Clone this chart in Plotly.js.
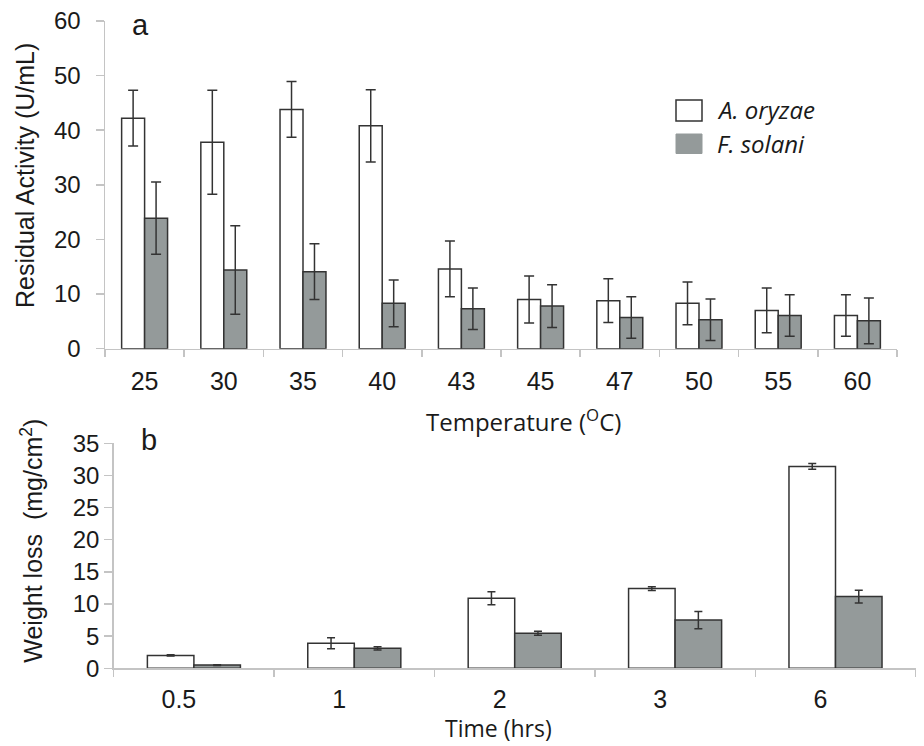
<!DOCTYPE html>
<html>
<head>
<meta charset="utf-8">
<script src="https://cdn.plot.ly/plotly-3.0.1.min.js"></script>
<style>html,body{margin:0;padding:0;background:#fff;}#chart{width:924px;height:746px;}</style>
</head>
<body>
<div id="chart"></div>
<script>
// ---- data ----
const tempCats = ['25', '30', '35', '40', '43', '45', '47', '50', '55', '60'];
const aoryzaeTemp = [42.2, 37.8, 43.8, 40.8, 14.6, 9.0, 8.8, 8.3, 7.0, 6.1];
const aoryzaeTempErr = [5.1, 9.5, 5.1, 6.6, 5.1, 4.3, 4.0, 3.9, 4.1, 3.8];
const fsolaniTemp = [23.9, 14.4, 14.1, 8.3, 7.3, 7.8, 5.7, 5.3, 6.1, 5.1];
const fsolaniTempErr = [6.6, 8.1, 5.1, 4.3, 3.8, 3.9, 3.8, 3.8, 3.8, 4.2];

const timeCats = ['0.5', '1', '2', '3', '6'];
const aoryzaeTime = [2.0, 3.9, 10.9, 12.4, 31.4];
const aoryzaeTimeErr = [0.1, 0.85, 1.0, 0.3, 0.45];
const fsolaniTime = [0.5, 3.1, 5.45, 7.5, 11.15];
const fsolaniTimeErr = [0.05, 0.25, 0.3, 1.35, 1.0];

const seriesNames = ['A. oryzae', 'F. solani'];
const panelLabels = ['a', 'b'];
const xTitles = ['Temperature (<sup>O</sup>C)', 'Time (hrs)'];
const yTitles = ['Residual Activity (U/mL)', 'Weight loss  (mg/cm<sup>2</sup>)'];

// ---- styles ----
const W = 924, H = 746;
const WHITE = '#ffffff', GREY = '#949a9a', EDGE = '#333333', AX = '#c4c4c4';
const ARIAL = 'Liberation Sans, Arial, sans-serif';
const MYRIAD = 'Open Sans, Noto Sans, sans-serif';
const TXT = '#1a1a1a';
const px = v => v / W;
const py = v => 1 - v / H;

function bar(x, y, err, color, xa, ya, name, cap) {
  return {
    type: 'bar', x: x, y: y, name: name, xaxis: xa, yaxis: ya, showlegend: false,
    marker: {color: color, line: {color: EDGE, width: 1.5}},
    error_y: {type: 'data', array: err, visible: true, color: EDGE, thickness: 1.5, width: cap},
    hoverinfo: 'x+y'
  };
}

const data = [
  bar(tempCats, aoryzaeTemp, aoryzaeTempErr, WHITE, 'x', 'y', seriesNames[0], 5),
  bar(tempCats, fsolaniTemp, fsolaniTempErr, GREY, 'x', 'y', seriesNames[1], 5),
  bar(timeCats, aoryzaeTime, aoryzaeTimeErr, WHITE, 'x2', 'y2', seriesNames[0], 4),
  bar(timeCats, fsolaniTime, fsolaniTimeErr, GREY, 'x2', 'y2', seriesNames[1], 4)
];

const xBase = {
  type: 'category', showline: true, linecolor: AX, linewidth: 1.5,
  ticks: 'outside', tickson: 'boundaries', ticklen: 7, tickcolor: AX, tickwidth: 1.5,
  showgrid: false, zeroline: false, fixedrange: true
};
const yBase = {
  showline: true, linecolor: AX, linewidth: 1.5,
  ticks: 'outside', ticklen: 8, tickcolor: AX, tickwidth: 1.5,
  showgrid: false, zeroline: false, fixedrange: true
};

const layout = {
  width: W, height: H,
  margin: {l: 0, r: 0, t: 0, b: 0},
  paper_bgcolor: '#fff', plot_bgcolor: '#fff',
  barmode: 'group', bargap: 0.42, bargroupgap: 0,
  showlegend: false,
  font: {family: ARIAL, color: TXT},
  xaxis: Object.assign({}, xBase, {
    domain: [px(105), px(897)], anchor: 'y',
    tickfont: {family: ARIAL, size: 25, color: TXT}, ticklabelstandoff: 10
  }),
  yaxis: Object.assign({}, yBase, {
    domain: [py(348.7), py(21)], anchor: 'x', range: [0, 60], dtick: 10,
    tickfont: {family: ARIAL, size: 24, color: TXT}, ticklabelstandoff: 10
  }),
  xaxis2: Object.assign({}, xBase, {
    domain: [px(113.7), px(915.7)], anchor: 'y2',
    tickfont: {family: ARIAL, size: 25, color: TXT}, ticklabelstandoff: 8, ticklabelshift: -15
  }),
  yaxis2: Object.assign({}, yBase, {
    domain: [py(668.3), py(443.3)], anchor: 'x2', range: [0, 35], dtick: 5,
    tickfont: {family: ARIAL, size: 24, color: TXT}
  }),
  annotations: [
    {text: yTitles[0], x: px(25), y: py(176), xref: 'paper', yref: 'paper', textangle: -90,
     showarrow: false, xanchor: 'center', yanchor: 'middle', font: {family: ARIAL, size: 25, color: TXT}},
    {text: yTitles[1], x: px(31.7), y: py(541), xref: 'paper', yref: 'paper', textangle: -90,
     showarrow: false, xanchor: 'center', yanchor: 'middle', font: {family: ARIAL, size: 25, color: TXT}},
    {text: xTitles[0], x: px(523), y: py(420), xref: 'paper', yref: 'paper',
     showarrow: false, xanchor: 'center', yanchor: 'middle', font: {family: MYRIAD, size: 24, color: TXT}},
    {text: xTitles[1], x: px(499), y: py(728), xref: 'paper', yref: 'paper',
     showarrow: false, xanchor: 'center', yanchor: 'middle', font: {family: MYRIAD, size: 23, color: TXT}},
    {text: panelLabels[0], x: px(140), y: py(25), xref: 'paper', yref: 'paper',
     showarrow: false, xanchor: 'center', yanchor: 'middle', font: {family: ARIAL, size: 29, color: TXT}},
    {text: panelLabels[1], x: px(149), y: py(440), xref: 'paper', yref: 'paper',
     showarrow: false, xanchor: 'center', yanchor: 'middle', font: {family: ARIAL, size: 29, color: TXT}},
    {text: '<i>' + seriesNames[0] + '</i>', x: px(715), y: py(110), xref: 'paper', yref: 'paper',
     showarrow: false, xanchor: 'left', yanchor: 'middle', font: {family: MYRIAD, size: 24, color: TXT}},
    {text: '<i>' + seriesNames[1] + '</i>', x: px(715), y: py(143), xref: 'paper', yref: 'paper',
     showarrow: false, xanchor: 'left', yanchor: 'middle', font: {family: MYRIAD, size: 24, color: TXT}}
  ],
  shapes: [
    {type: 'rect', xref: 'paper', yref: 'paper', x0: px(676), x1: px(702), y0: py(121), y1: py(100),
     fillcolor: WHITE, line: {color: EDGE, width: 1.5}},
    {type: 'rect', xref: 'paper', yref: 'paper', x0: px(676), x1: px(702), y0: py(153.5), y1: py(134),
     fillcolor: GREY, line: {color: GREY, width: 1}}
  ]
};

Plotly.newPlot('chart', data, layout, {displayModeBar: false, staticPlot: true});
</script>
</body>
</html>
